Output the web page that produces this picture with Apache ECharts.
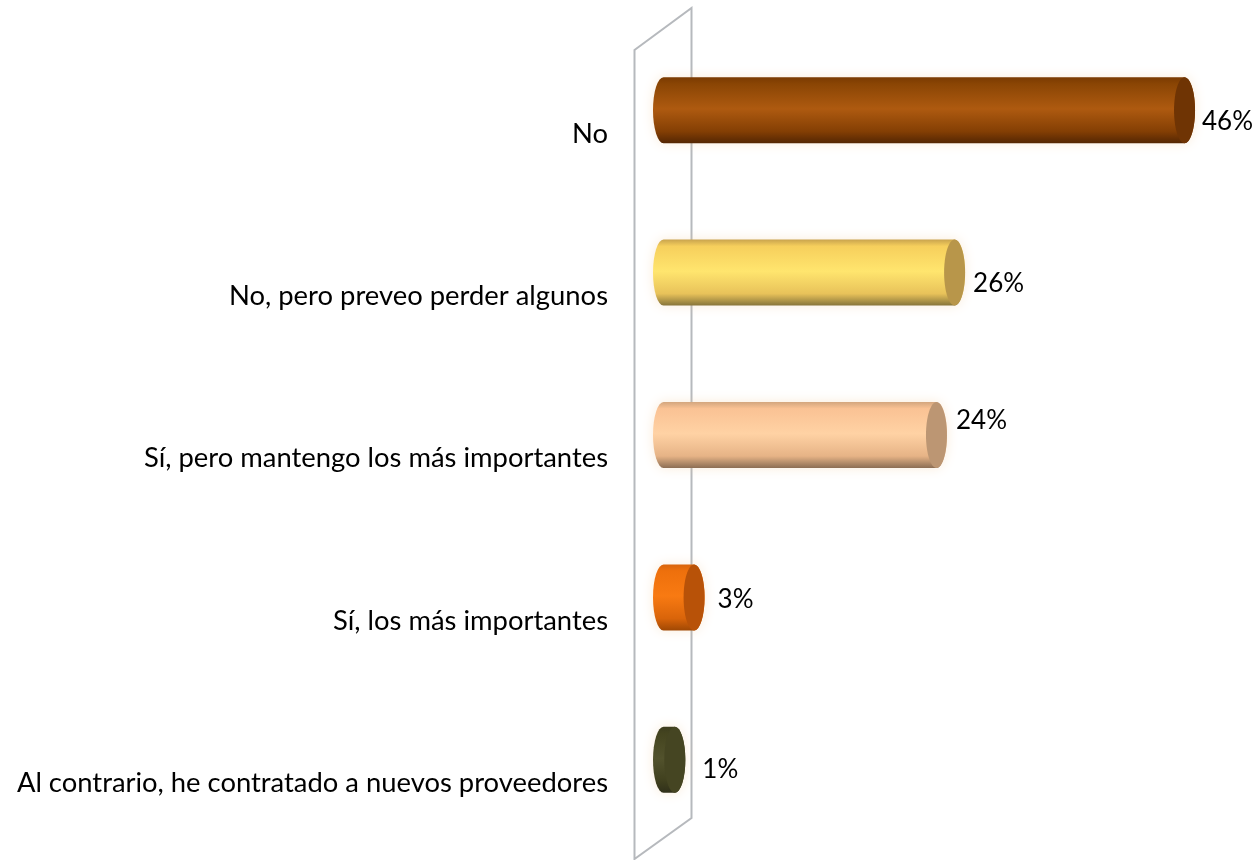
<!DOCTYPE html>
<html><head><meta charset="utf-8">
<style>html,body{margin:0;padding:0;background:#fff}#c{width:1256px;height:860px}</style>
<script src="https://cdn.jsdelivr.net/npm/echarts@6/dist/echarts.min.js"></script></head>
<body><div id="c"></div><script>
const categories=["No","No, pero preveo perder algunos","Sí, pero mantengo los más importantes","Sí, los más importantes","Al contrario, he contratado a nuevos proveedores"];
const values=[46,25.7,24.1,2.7,1];
const topColors=["#7a3a02","#c9a44e","#d3a67e","#d8640c","#3c3c1e"];
const upperColors=["#8a4504","#f6cf5c","#fac294","#ee700c","#44441f"];
const midColors=["#ae5a10","#ffe56e","#ffd2a4","#f87a12","#52522c"];
const lowerColors=["#843f04","#e8c25a","#e6b386","#d9640a","#40401e"];
const darkColors=["#542603","#86743a","#8c6e54","#a04804","#30301a"];
const capColors=["#6f3404","#b8964a","#bc9673","#b85208","#454522"];
const labelDx=[7,8,9,13,17];
const labelDy=[11,11,-14,2,10];
const chart=echarts.init(document.getElementById('c'),null,{renderer:'canvas'});
const font='Lato, Carlito, "Open Sans", sans-serif';
function renderBar(params,api){
  const i=api.value(2),y=api.coord([0,i])[1];
  const x0=api.coord([0,i])[0],x1=api.coord([api.value(0),i])[0];
  const ry=33,rx=10.5;
  const top=y-ry,bot=y+ry;
  const d=`M ${x0} ${top} L ${x1} ${top} A ${rx} ${ry} 0 0 1 ${x1} ${bot} L ${x0} ${bot} A ${rx} ${ry} 0 0 1 ${x0} ${top} Z`;
  const grad=new echarts.graphic.LinearGradient(0,0,0,1,[
    {offset:0,color:topColors[i]},{offset:.1,color:upperColors[i]},{offset:.48,color:midColors[i]},{offset:.82,color:lowerColors[i]},{offset:1,color:darkColors[i]}]);
  return {type:'group',children:[
    {type:'path',shape:{pathData:d,x:x0-rx,y:top,width:x1-x0+2*rx,height:2*ry,layout:'cover'},
     style:{fill:grad,shadowBlur:12,shadowColor:'rgba(240,190,130,0.3)'}},
    {type:'ellipse',shape:{cx:x1,cy:y,rx:rx,ry:ry},style:{fill:capColors[i]}},
    {type:'text',x:x1+rx+labelDx[i],y:y+labelDy[i],
     style:{text:Math.round(api.value(0))+'%',font:`26px ${font}`,fill:'#000',textAlign:'left',textVerticalAlign:'middle'}}
  ]};
}
function renderWall(params,api){
  const cs=params.coordSys;
  const xr=cs.x+28,xl=xr-57,t=cs.y-21,b=cs.y+cs.height;
  return {type:'polygon',shape:{points:[[xl,t+42],[xr,t],[xr,b-23],[xl,b+18]]},
    style:{fill:'#fff',stroke:'#b6b9bd',lineWidth:2}};
}
chart.setOption({
  animation:false,backgroundColor:'#fff',
  grid:{left:663.5,width:589,top:29,height:812},
  xAxis:{type:'value',min:0,max:52,show:false},
  yAxis:{type:'category',inverse:true,data:categories,axisLine:{show:false},axisTick:{show:false},splitLine:{show:false},
    axisLabel:{color:'#000',fontFamily:font,fontSize:27.4,margin:55.5,verticalAlign:'top',padding:[10,0,0,0]}},
  series:[
    {type:'custom',silent:true,data:[[0,0]],renderItem:renderWall,z:1,clip:false},
    {type:'custom',silent:true,encode:{x:0,y:2},data:values.map((v,i)=>[v,categories[i],i]),renderItem:renderBar,z:2,clip:false}
  ]
});
</script></body></html>
